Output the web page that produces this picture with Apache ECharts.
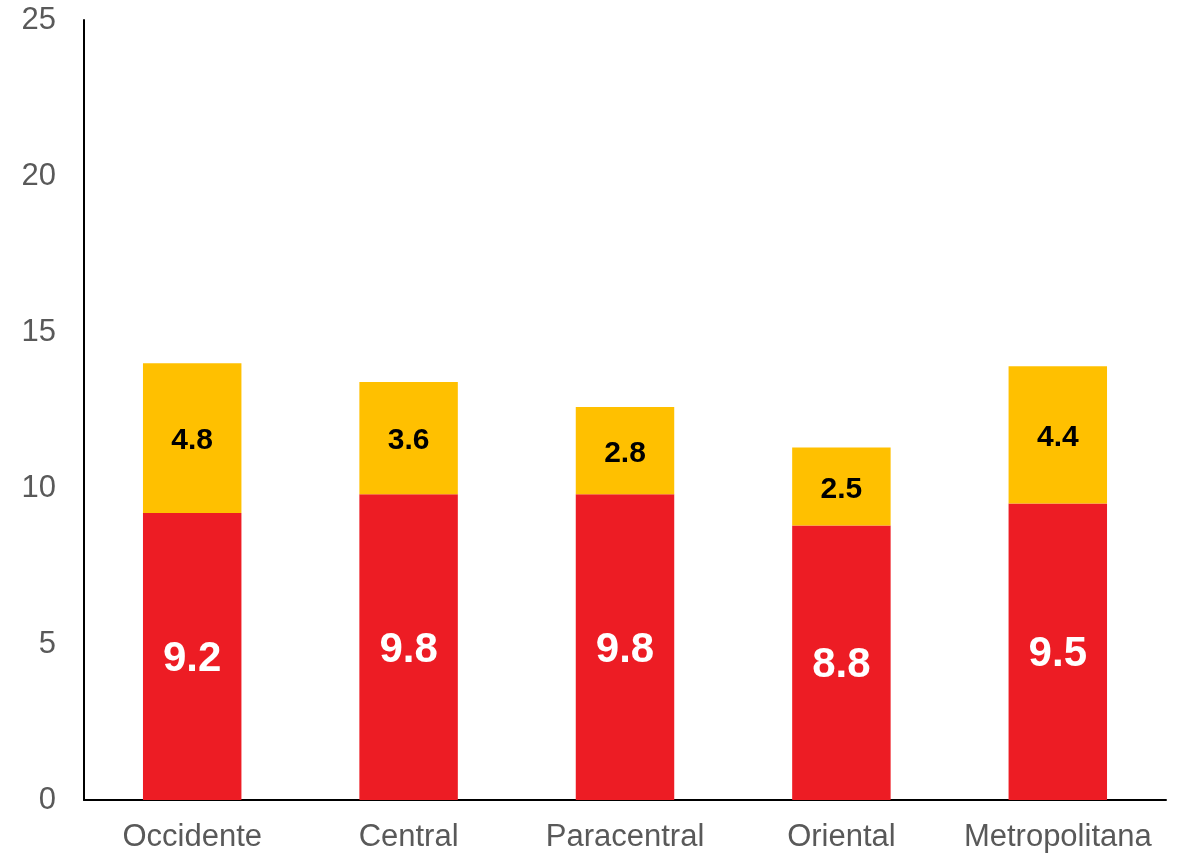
<!DOCTYPE html>
<html>
<head>
<meta charset="utf-8">
<script src="https://cdn.jsdelivr.net/npm/echarts@6/dist/echarts.min.js"></script>
<style>
  html, body { margin: 0; padding: 0; background: #fff; }
  #chart { width: 1178px; height: 855px; }
</style>
</head>
<body>
<div id="chart"></div>
<script>
// Regions along the x axis
const regions = ['Occidente', 'Central', 'Paracentral', 'Oriental', 'Metropolitana'];
// Lower (red) segment of each stacked bar
const lowerValues = [9.2, 9.8, 9.8, 8.8, 9.5];
// Upper (yellow) segment of each stacked bar
const upperValues = [4.8, 3.6, 2.8, 2.5, 4.4];
// Value axis ticks
const yTicks = [0, 5, 10, 15, 20, 25];

const FONT = '"Liberation Sans", Arial, sans-serif';

const chart = echarts.init(document.getElementById('chart'), null, { renderer: 'canvas' });

chart.setOption({
  animation: false,
  backgroundColor: '#ffffff',
  grid: { left: 84, right: 12, top: 20, bottom: 55, containLabel: false },
  xAxis: {
    type: 'category',
    data: regions,
    axisLine: { show: true, lineStyle: { color: '#000000', width: 2 } },
    axisTick: { show: false },
    axisLabel: { interval: 0, color: '#595959', fontSize: 31, fontFamily: FONT, margin: 22 }
  },
  yAxis: {
    type: 'value',
    min: yTicks[0],
    max: yTicks[yTicks.length - 1],
    interval: yTicks[1] - yTicks[0],
    axisLine: { show: true, lineStyle: { color: '#000000', width: 2 } },
    axisTick: { show: false },
    splitLine: { show: false },
    axisLabel: { color: '#595959', fontSize: 31, fontFamily: FONT, margin: 28 }
  },
  series: [
    {
      type: 'bar',
      stack: 'total',
      data: lowerValues,
      barWidth: '45.5%',
      itemStyle: { color: '#ED1C24' },
      label: {
        show: true,
        position: 'inside',
        color: '#ffffff',
        fontSize: 42,
        fontWeight: 'bold',
        fontFamily: FONT,
        offset: [0, 3]
      }
    },
    {
      type: 'bar',
      stack: 'total',
      data: upperValues,
      barWidth: '45.5%',
      itemStyle: { color: '#FFC000' },
      label: {
        show: true,
        position: 'inside',
        color: '#000000',
        fontSize: 30,
        fontWeight: 'bold',
        fontFamily: FONT,
        offset: [0, 3]
      }
    }
  ]
});
</script>
</body>
</html>
